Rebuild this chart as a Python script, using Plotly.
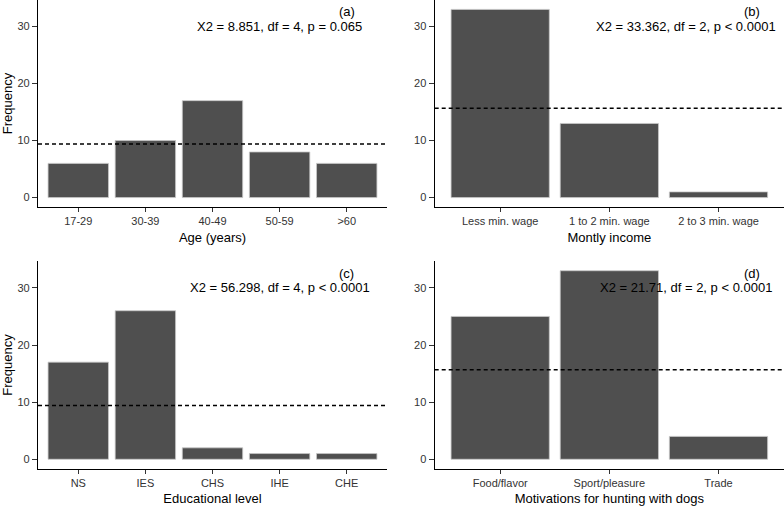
import plotly.graph_objects as go

age_cats = ["17-29", "30-39", "40-49", "50-59", ">60"]
age_vals = [6, 10, 17, 8, 6]
income_cats = ["Less min. wage", "1 to 2 min. wage", "2 to 3 min. wage"]
income_vals = [33, 13, 1]
edu_cats = ["NS", "IES", "CHS", "IHE", "CHE"]
edu_vals = [17, 26, 2, 1, 1]
motiv_cats = ["Food/flavor", "Sport/pleasure", "Trade"]
motiv_vals = [25, 33, 4]

expected = [9.4, 15.67, 9.4, 15.67]
stats_text = [
    "X2 = 8.851, df = 4, p = 0.065",
    "X2 = 33.362, df = 2, p < 0.0001",
    "X2 = 56.298, df = 4, p < 0.0001",
    "X2 = 21.71, df = 2, p < 0.0001",
]
panel_labels = ["(a)", "(b)", "(c)", "(d)"]
x_titles = ["Age (years)", "Montly income", "Educational level", "Motivations for hunting with dogs"]
y_tick_vals = [0, 10, 20, 30]

panels = [
    (age_cats, age_vals),
    (income_cats, income_vals),
    (edu_cats, edu_vals),
    (motiv_cats, motiv_vals),
]

W, H = 784, 506
xdoms = [[38 / W, 387 / W], [434.7 / W, 1.0], [38 / W, 387 / W], [434.7 / W, 1.0]]
ydoms = [[1 - 207 / H, 1.0], [1 - 207 / H, 1.0],
         [1 - 468.7 / H, 1 - 261.3 / H], [1 - 468.7 / H, 1 - 261.3 / H]]

fig = go.Figure()
FONT = "Liberation Sans, Arial, sans-serif"

for i, (cats, vals) in enumerate(panels):
    n = len(cats)
    xa = "x" if i == 0 else f"x{i+1}"
    ya = "y" if i == 0 else f"y{i+1}"
    xs = list(range(1, n + 1))
    fig.add_trace(go.Bar(
        x=xs, y=vals, width=0.9,
        marker=dict(color="#4f4f4f", line=dict(color="#c8c8c8", width=0.8)),
        xaxis=xa, yaxis=ya, showlegend=False, hoverinfo="skip",
    ))
    fig.add_trace(go.Scatter(
        x=[0.4, n + 0.6], y=[expected[i], expected[i]], mode="lines",
        line=dict(color="black", width=1.4, dash="4px,3px"),
        xaxis=xa, yaxis=ya, showlegend=False, hoverinfo="skip",
    ))
    xkey = "xaxis" if i == 0 else f"xaxis{i+1}"
    ykey = "yaxis" if i == 0 else f"yaxis{i+1}"
    fig.update_layout({
        xkey: dict(
            domain=xdoms[i], anchor=ya, range=[0.4, n + 0.6],
            tickvals=xs, ticktext=cats, showgrid=False, zeroline=False,
            showline=True, linecolor="black", linewidth=1.3,
            ticks="outside", ticklen=4, tickcolor="#333333", tickwidth=1,
            tickfont=dict(family=FONT, size=11, color="#333333"),
            title=dict(text=x_titles[i], font=dict(family=FONT, size=13, color="black"), standoff=6),
        ),
        ykey: dict(
            domain=ydoms[i], anchor=xa, range=[-1.65, 34.65],
            tickvals=y_tick_vals, showgrid=False, zeroline=False,
            showline=True, linecolor="black", linewidth=1.3,
            ticks="outside", ticklen=5, tickcolor="#333333", tickwidth=1,
            tickfont=dict(family=FONT, size=11, color="#333333"),
            title=dict(text="Frequency" if i in (0, 2) else "",
                       font=dict(family=FONT, size=13, color="black"), standoff=4),
        ),
    })
    if n == 5:
        tx, lx = 4.0, 5.0
    else:
        tx, lx = 2.7, 3.31
    fig.add_annotation(x=tx, y=30, xref=xa, yref=ya, text=stats_text[i], showarrow=False,
                       font=dict(family=FONT, size=13, color="black"), xanchor="center", yanchor="middle")
    fig.add_annotation(x=lx, y=32.6, xref=xa, yref=ya, text=panel_labels[i], showarrow=False,
                       font=dict(family=FONT, size=13, color="black"), xanchor="center", yanchor="middle")

fig.update_layout(
    width=W, height=H, margin=dict(l=0, r=0, t=0, b=0),
    paper_bgcolor="white", plot_bgcolor="white",
    font=dict(family=FONT),
)

fig.write_html("out.html", config={"displayModeBar": False},
               post_script="document.body.style.margin='0';document.body.style.overflow='hidden';")
